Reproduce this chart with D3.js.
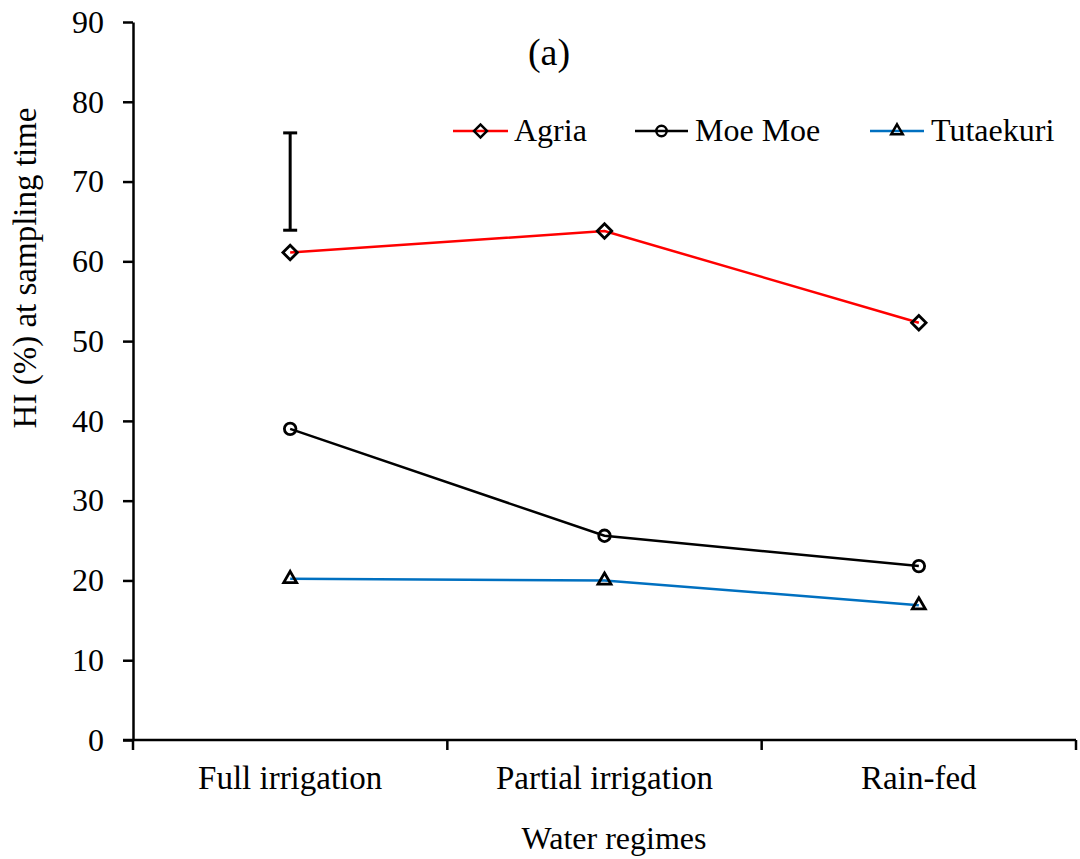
<!DOCTYPE html>
<html>
<head>
<meta charset="utf-8">
<script src="https://cdn.jsdelivr.net/npm/d3@7/dist/d3.min.js"></script>
<style>
  html, body { margin: 0; padding: 0; background: #fff; }
  svg { display: block; }
  svg text { font-family: "Liberation Serif", "Times New Roman", Times, serif; fill: #000; }
</style>
</head>
<body>
<svg id="chart" width="1080" height="859"></svg>
<script>
// Harvest index by water regime for three potato cultivars
const regimes = ["Full irrigation", "Partial irrigation", "Rain-fed"];
const agria = [61.1, 63.8, 52.3];
const moeMoe = [39.0, 25.6, 21.8];
const tutaekuri = [20.2, 20.0, 16.9];
const yTicks = [0, 10, 20, 30, 40, 50, 60, 70, 80, 90];
// LSD bar drawn above the first regime
const lsdLow = 63.9, lsdHigh = 76.1;

const FONT = "'Liberation Serif', 'Times New Roman', Times, serif";

const series = [
  { name: "Agria", values: agria, color: "#ff0000", symbol: d3.symbolSquare, rot: 45, size: 105 },
  { name: "Moe Moe", values: moeMoe, color: "#000000", symbol: d3.symbolCircle, rot: 0, size: 105 },
  { name: "Tutaekuri", values: tutaekuri, color: "#0070c0", symbol: d3.symbolTriangle, rot: 0, size: 72 }
];

const svg = d3.select("#chart").attr("font-family", FONT);
const plotLeft = 133, plotRight = 1076, plotTop = 22, plotBottom = 740;

const x = d3.scaleBand().domain(regimes).range([plotLeft, plotRight]).paddingInner(0).paddingOuter(0);
const y = d3.scaleLinear().domain([0, 90]).range([plotBottom, plotTop]);
const cx = d => x(d) + x.bandwidth() / 2;

// y axis
const yAxis = svg.append("g")
  .attr("transform", `translate(${plotLeft},0)`)
  .call(d3.axisLeft(y).tickValues(yTicks).tickSize(10).tickPadding(19).tickSizeOuter(0));
yAxis.attr("font-family", FONT).attr("font-size", 32);
yAxis.select(".domain").attr("stroke", "#000").attr("stroke-width", 2.5);
yAxis.selectAll(".tick line").attr("stroke", "#000").attr("stroke-width", 2.5);
yAxis.selectAll(".tick text").attr("fill", "#000");

// x axis with ticks on band boundaries
const xAxis = svg.append("g").attr("transform", `translate(0,${plotBottom})`);
xAxis.append("line").attr("x1", plotLeft - 10).attr("x2", plotRight)
  .attr("stroke", "#000").attr("stroke-width", 2.5);
const boundaries = regimes.map(r => x(r)).concat([plotRight]);
xAxis.selectAll("line.tk").data(boundaries).join("line").attr("class", "tk")
  .attr("x1", d => d).attr("x2", d => d).attr("y1", 0).attr("y2", 10)
  .attr("stroke", "#000").attr("stroke-width", 2.5);
xAxis.selectAll("text.cat").data(regimes).join("text").attr("class", "cat")
  .attr("x", d => cx(d)).attr("y", 49).attr("text-anchor", "middle")
  .attr("font-size", 33).text(d => d);

// axis titles
svg.append("text").attr("x", 614).attr("y", 849)
  .attr("text-anchor", "middle").attr("font-size", 32).text("Water regimes");
svg.append("text")
  .attr("transform", `translate(36,268) rotate(-90)`)
  .attr("text-anchor", "middle").attr("font-size", 33)
  .text("HI (%) at sampling time");

// panel letter
svg.append("text").attr("x", 549).attr("y", 65).attr("text-anchor", "middle")
  .attr("font-size", 38).text("(a)");

// LSD bar
const lsdX = cx(regimes[0]);
const lsd = svg.append("g").attr("stroke", "#000").attr("stroke-width", 3);
lsd.append("line").attr("x1", lsdX).attr("x2", lsdX).attr("y1", y(lsdLow)).attr("y2", y(lsdHigh));
lsd.append("line").attr("x1", lsdX - 7).attr("x2", lsdX + 7).attr("y1", y(lsdLow)).attr("y2", y(lsdLow));
lsd.append("line").attr("x1", lsdX - 7).attr("x2", lsdX + 7).attr("y1", y(lsdHigh)).attr("y2", y(lsdHigh));

// series lines and markers
const line = d3.line().x((d, i) => cx(regimes[i])).y(d => y(d));
series.forEach(s => {
  svg.append("path").datum(s.values).attr("d", line)
    .attr("fill", "none").attr("stroke", s.color).attr("stroke-width", 2.5);
  svg.selectAll(null).data(s.values).join("path")
    .attr("transform", (d, i) => `translate(${cx(regimes[i])},${y(d)}) rotate(${s.rot})`)
    .attr("d", d3.symbol().type(s.symbol).size(s.size))
    .attr("fill", "none").attr("stroke", "#000").attr("stroke-width", 2.8);
});

// legend
const legendItems = [
  { s: series[0], x0: 453, x1: 508, tx: 514 },
  { s: series[1], x0: 635, x1: 688, tx: 695 },
  { s: series[2], x0: 870, x1: 924, tx: 931 }
];
const ly = 131;
legendItems.forEach(it => {
  const g = svg.append("g");
  g.append("line").attr("x1", it.x0).attr("x2", it.x1).attr("y1", ly).attr("y2", ly)
    .attr("stroke", it.s.color).attr("stroke-width", 2.5);
  g.append("path").attr("transform", `translate(${(it.x0 + it.x1) / 2},${ly}) rotate(${it.s.rot})`)
    .attr("d", d3.symbol().type(it.s.symbol).size(it.s.size * 0.8))
    .attr("fill", "none").attr("stroke", "#000").attr("stroke-width", 2.5);
  g.append("text").attr("x", it.tx).attr("y", ly + 10).attr("font-size", 32).text(it.s.name);
});
</script>
</body>
</html>
